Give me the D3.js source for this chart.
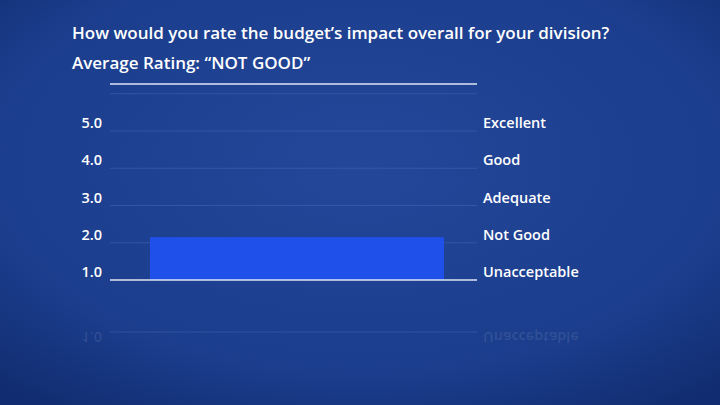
<!DOCTYPE html>
<html><head><meta charset="utf-8">
<script src="https://cdn.jsdelivr.net/npm/d3@7"></script>
<style>body{margin:0;background:#16357e;overflow:hidden}svg{display:block;font-family:"Open Sans",Lato,sans-serif}</style>
</head><body>
<script>
const ticks = [1, 2, 3, 4, 5];
const tickLabels = ["1.0", "2.0", "3.0", "4.0", "5.0"];
const ratingLabels = ["Unacceptable", "Not Good", "Adequate", "Good", "Excellent"];
const barValue = [2.15];

const W = 720, H = 405;
const svg = d3.select("body").append("svg").attr("width", W).attr("height", H);
const defs = svg.append("defs");
const grad = defs.append("radialGradient").attr("id", "bg").attr("cx", "50%").attr("cy", "40%").attr("r", "75%");
grad.append("stop").attr("offset", "0%").attr("stop-color", "#25479a");
grad.append("stop").attr("offset", "70%").attr("stop-color", "#1b3d8c");
grad.append("stop").attr("offset", "100%").attr("stop-color", "#112c70");
svg.append("rect").attr("width", W).attr("height", H).attr("fill", "url(#bg)");

svg.append("text").attr("x", 72).attr("y", 39).attr("fill", "#fff").attr("font-size", 17).attr("font-weight", 600)
  .text("How would you rate the budget\u2019s impact overall for your division?");
svg.append("text").attr("x", 72).attr("y", 69).attr("fill", "#fff").attr("font-size", 17).attr("font-weight", 600)
  .text("Average Rating: \u201CNOT GOOD\u201D");

const x0 = 110, x1 = 477;
const y = d3.scaleLinear().domain([1, 5]).range([280, 131]);

// faint grid
svg.selectAll(".grid").data([...ticks.slice(1), 6]).enter().append("line")
  .attr("x1", x0).attr("x2", x1).attr("y1", d => y(d)).attr("y2", d => y(d))
  .attr("stroke", "#4a6ab8").attr("stroke-opacity", 0.5).attr("stroke-width", 1);

// bar
svg.selectAll(".bar").data(barValue).enter().append("rect")
  .attr("x", 150).attr("width", 294)
  .attr("y", d => y(d)).attr("height", d => y(1) - y(d))
  .attr("fill", "#1f50ea");

// top and bottom rules
svg.append("line").attr("x1", x0).attr("x2", x1).attr("y1", 84).attr("y2", 84).attr("stroke", "#dfe6f5").attr("stroke-width", 1.5);
svg.append("line").attr("x1", x0).attr("x2", x1).attr("y1", y(1)).attr("y2", y(1)).attr("stroke", "#dfe6f5").attr("stroke-width", 1.5);

// left ticks
const left = d3.axisLeft(y).tickValues(ticks).tickFormat((d, i) => tickLabels[i]).tickSize(0).tickPadding(0);
const gl = svg.append("g").attr("transform", `translate(102,-8)`).call(left).attr("font-size", 14.5).attr("font-family", null);
gl.select(".domain").remove();
gl.selectAll("text").attr("fill", "#fff").attr("font-weight", 600);

const right = d3.axisRight(y).tickValues(ticks).tickFormat((d, i) => ratingLabels[i]).tickSize(0).tickPadding(0);
const gr = svg.append("g").attr("transform", `translate(483,-8)`).call(right).attr("font-size", 14.5).attr("font-family", null);
gr.select(".domain").remove();
gr.selectAll("text").attr("fill", "#fff").attr("font-weight", 600);

// reflection
svg.append("line").attr("x1", x0).attr("x2", x1).attr("y1", 332).attr("y2", 332).attr("stroke", "#5a78c0").attr("stroke-opacity", 0.35);
svg.append("text").attr("transform", "translate(102,332) scale(1,-1)").attr("y", 0).attr("text-anchor", "end")
  .attr("fill", "#fff").attr("fill-opacity", 0.1).attr("font-size", 14.5).attr("font-weight", 600).text(tickLabels[0]);
svg.append("text").attr("transform", "translate(483,332) scale(1,-1)").attr("y", 0)
  .attr("fill", "#fff").attr("fill-opacity", 0.1).attr("font-size", 14.5).attr("font-weight", 600).text(ratingLabels[0]);
</script>
</body></html>
